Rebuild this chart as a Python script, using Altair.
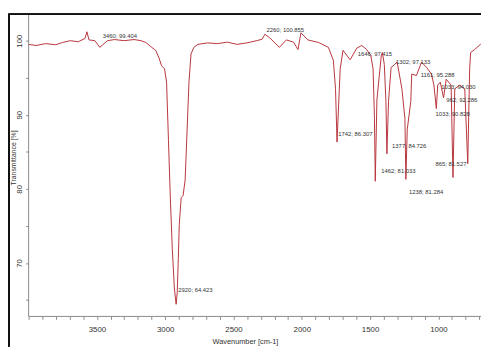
import altair as alt
import pandas as pd

# Spectrum (wavenumber cm-1, transmittance %)
wavenumber = [4000, 3946, 3874, 3802, 3752, 3695, 3637, 3587, 3573, 3558, 3515, 3479, 3460, 3422,
              3371, 3300, 3228, 3177, 3142, 3106, 3070, 3048, 3026, 3005, 2990, 2976, 2962, 2948,
              2933, 2920, 2912, 2904, 2897, 2883, 2869, 2854, 2840, 2826, 2811, 2790, 2761, 2689,
              2617, 2545, 2473, 2402, 2330, 2290, 2270, 2236, 2164, 2113, 2060, 2028, 2006, 1956,
              1877, 1805, 1769, 1753, 1742, 1719, 1698, 1662, 1646, 1597, 1561, 1525, 1495, 1478,
              1468, 1462, 1450, 1418, 1410, 1396, 1384, 1377, 1365, 1346, 1324, 1302, 1267, 1245,
              1238, 1228, 1202, 1195, 1161, 1123, 1087, 1051, 1033, 1015, 1005, 986, 962, 943, 907,
              893, 880, 843, 807, 785, 771, 764, 735, 692, 688]
transmittance = [99.5, 99.35, 99.6, 99.45, 99.75, 100.0, 99.85, 100.3, 101.2, 100.1, 100.0, 99.1, 99.4, 100.0,
                 100.15, 100.0, 100.15, 100.0, 99.75, 99.2, 98.7, 97.8, 96.6, 96.2, 94.4, 86.5, 78.5, 71.9,
                 66.6, 64.42, 66.0, 70.6, 75.2, 78.8, 79.1, 81.2, 87.8, 94.4, 98.2, 99.1, 99.5, 99.7,
                 99.6, 99.8, 99.5, 99.7, 100.0, 100.2, 100.86, 100.4, 99.1, 100.1, 99.8, 98.8, 101.06, 100.1,
                 99.75, 99.1, 97.35, 93.5, 86.31, 96.2, 98.7, 97.8, 97.42, 99.0, 99.35, 98.8, 98.0, 96.2,
                 89.5, 81.03, 92.0, 98.0, 98.4, 96.8, 91.8, 84.73, 91.8, 96.4, 96.7, 97.13, 93.5, 89.5,
                 81.28, 88.0, 91.8, 95.5, 95.29, 97.1, 96.4, 95.5, 94.03, 90.83, 94.0, 94.4, 92.29, 94.8, 94.0,
                 81.53, 93.5, 94.0, 93.5, 83.4, 96.2, 98.4, 98.8, 99.5, 99.5]

# Peak annotations: text and where the text sits (wavenumber, transmittance)
peak_text = ["3460; 99.404", "2260; 100.855", "2920; 64.423", "1742; 86.307", "1646; 97.415",
             "1302; 97.133", "1161; 95.288", "1033; 94.030", "962; 92.286", "1033; 90.828",
             "1377; 84.726", "865; 81.527", "1462; 81.033", "1238; 81.284"]
label_wn = [3458, 2258, 2904, 1733, 1590, 1310, 1130, 979, 943, 1022, 1339, 1022, 1418, 1216]
label_t = [100.66, 101.46, 66.36, 87.42, 98.15, 97.09, 95.36, 93.77, 91.92, 90.07, 85.83, 83.31, 82.38, 79.60]

x_ticks = list(range(700, 4001, 100))
y_ticks = [65, 70, 75, 80, 85, 90, 95, 100]
x_axis_start, x_axis_end = 4000, 688      # extent of the drawn wavenumber axis
y_axis_low, y_axis_high = 62.78, 103.58   # extent of the drawn transmittance axis
x_edge_left, y_edge_low = 4143.7, 58.68   # outer edges of the screenshot frame

spec = pd.DataFrame({"wn": wavenumber, "t": transmittance, "i": list(range(len(wavenumber)))})
labels = pd.DataFrame({"wn": label_wn, "t": label_t, "text": peak_text})
one = pd.DataFrame({"k": [0]})

FONT = "Liberation Sans"
GREY = "#8a8a8a"
INK = "#333333"
W, H = 481, 339
xscale = alt.Scale(domain=[x_axis_end, x_edge_left], reverse=True, nice=False, zero=False)
yscale = alt.Scale(domain=[y_edge_low, y_axis_high], nice=False, zero=False)

xaxis = alt.Axis(values=x_ticks, title="Wavenumber [cm-1]", grid=False, domain=False,
                 labelExpr="indexof([1000,1500,2000,2500,3000,3500], datum.value) >= 0 ? datum.label : ''",
                 format="d", labelOverlap=False, labelFlush=False, labelBound=False,
                 labelFontSize=8, titleFontSize=7.5, titleFontWeight="normal",
                 tickSize=3, labelPadding=6, titlePadding=5, offset=-31,
                 tickColor=GREY, labelColor=INK, titleColor=INK,
                 labelFont=FONT, titleFont=FONT)
yaxis = alt.Axis(values=y_ticks, title="Transmittance [%]", grid=False, domain=False,
                 labelExpr="datum.value % 10 == 0 ? datum.label : ''",
                 labelOverlap=False, labelFlush=False, labelBound=False,
                 labelAngle=270, labelFontSize=8, titleFontSize=7, titleFontWeight="normal",
                 tickSize=3, labelPadding=2, offset=-20,
                 titleX=-15, titleY=146, titleAngle=270,
                 titleAlign="center", titleBaseline="middle",
                 tickColor=GREY, labelColor=INK, titleColor=INK,
                 labelFont=FONT, titleFont=FONT)


def xd(v):
    return alt.XDatum(v, type="quantitative", scale=xscale, axis=xaxis)


def yd(v):
    return alt.YDatum(v, type="quantitative", scale=yscale, axis=yaxis)


line = alt.Chart(spec).mark_line(color="#b8343c", strokeWidth=1, interpolate="linear").encode(
    x=alt.X("wn:Q", scale=xscale, axis=xaxis),
    y=alt.Y("t:Q", scale=yscale, axis=yaxis),
    order="i:Q",
)

lab = alt.Chart(labels).mark_text(
    align="left", baseline="middle", fontSize=6, color=INK, font=FONT).encode(
    x=alt.X("wn:Q", scale=xscale, axis=xaxis), y=alt.Y("t:Q", scale=yscale, axis=yaxis),
    text="text:N")

# axis lines drawn through the scales
y_line = alt.Chart(one).mark_rule(color=GREY, strokeWidth=1).encode(
    x=xd(x_axis_start), y=yd(y_axis_high), y2=alt.Y2Datum(y_axis_low))
x_line = alt.Chart(one).mark_rule(color=GREY, strokeWidth=1).encode(
    y=yd(y_axis_low), x=xd(x_axis_start), x2=alt.X2Datum(x_axis_end))

# outer black frame (screenshot border): top and left edges
frame_top = alt.Chart(one).mark_rule(color="#111111", strokeWidth=2).encode(
    y=yd(y_axis_high), x=xd(x_edge_left), x2=alt.X2Datum(x_axis_end))
frame_left = alt.Chart(one).mark_rule(color="#111111", strokeWidth=2).encode(
    x=xd(x_edge_left), y=yd(y_axis_high), y2=alt.Y2Datum(y_edge_low))

chart = alt.layer(line, lab, y_line, x_line, frame_top, frame_left).properties(
    width=W, height=H,
    autosize=alt.AutoSizeParams(type="none"),
    padding={"left": 1, "top": 3, "right": 0, "bottom": 0},
    background="white",
).configure_view(
    stroke="#111111", strokeWidth=2, strokeDash=[W, W + H, H]
).configure_axis(labelOverlap=False)

chart.save("out.html", embed_options={"renderer": "svg", "actions": False})
